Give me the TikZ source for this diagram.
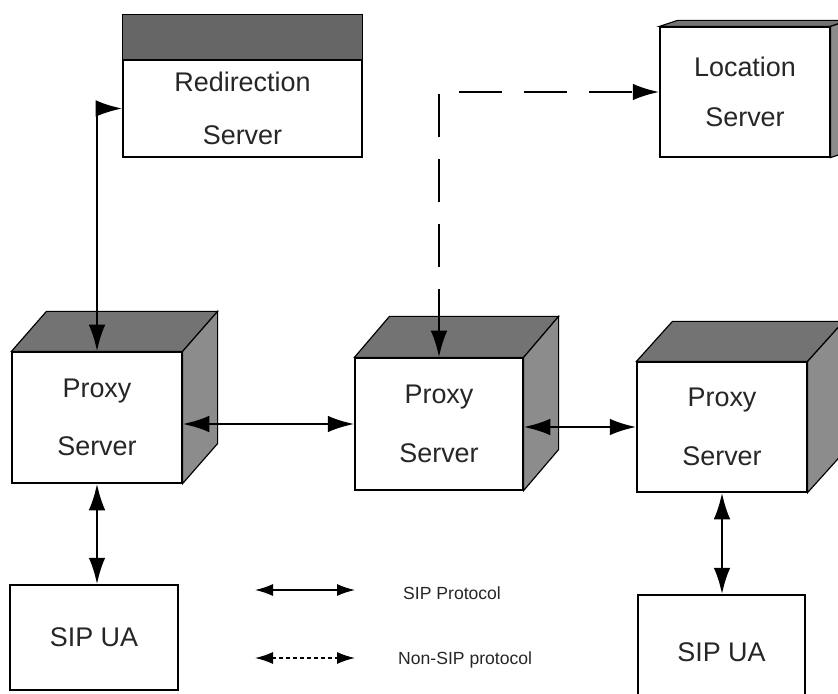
\documentclass[tikz,border=0pt]{standalone}
\usepackage{fontspec}
\setmainfont{Liberation Sans}
\usetikzlibrary{arrows.meta,calc}
\def\cubefaces(#1)(#2,#3){%
  \draw[fill=black!55, line width=1pt] (#1.north west) -- ++(#2,#3) -- ($(#1.north east)+(#2,#3)$) -- (#1.north east) -- cycle;
  \draw[fill=black!45, line width=1pt] (#1.north east) -- ++(#2,#3) -- ($(#1.south east)+(#2,#3)$) -- (#1.south east) -- cycle;}
\tikzset{
  box/.style={draw, line width=1pt, fill=white, inner sep=0pt, align=center, text=black!85},
  big/.style={font=\fontsize{23}{#1}\selectfont},
  link/.style={line width=0.85mm, {Latex[length=8mm,width=5mm]}-{Latex[length=8mm,width=5mm]}},
  nonlink/.style={link, dash pattern=on 13mm off 6.5mm},
  keylink/.style={line width=0.45mm, {Latex[length=5.4mm,width=3.6mm]}-{Latex[length=5.4mm,width=3.6mm]}},
  legend/.style={font=\fontsize{15}{18}\selectfont, anchor=west, inner sep=0pt, text=black!85}
}

\begin{document}
\begin{tikzpicture}[x=0.3mm, y=0.3mm]
		%%%%% START %%%%%
		\clip (0, 0) rectangle (838, 693);
		
		% servers on top
		\node[box, big=45pt, minimum width=71.7mm, minimum height=29.1mm] (redir) at (242.5, 584.5) {Redirection\\Server};
		\draw[fill=black!60, line width=1pt] (redir.north west) rectangle ($(redir.north east)+(0, 45)$);
		
		\node[box, big=43pt, minimum width=51mm, minimum height=39mm] (loc) at (745, 601) {Location\\Server};
		\cubefaces(loc)(18, 6)
		
		% proxies
		\node[box, big=50pt, minimum width=51mm, minimum height=39.3mm] (p1) at (97, 275.5) {Proxy\\Server};
		\cubefaces(p1)(35, 40)
		\node[box, big=50pt, minimum width=50.4mm, minimum height=39.6mm] (p2) at (439, 269) {Proxy\\Server};
		\cubefaces(p2)(35, 41)
		\node[box, big=50pt, minimum width=51mm, minimum height=39mm] (p3) at (722, 266) {Proxy\\Server};
		\cubefaces(p3)(36, 40)
		
		% user agents
		\node[box, big=28pt, minimum width=50.4mm, minimum height=31.5mm] (ua1) at (94, 55.5) {SIP UA};
		\node[box, big=28pt, minimum width=50.1mm, minimum height=34.2mm] (ua2) at (721.5, 41) {SIP UA};
		
		% connections
		\draw[link] (p1.north) |- (redir.west);
		\draw[nonlink] (p2.north) |- (loc.west);
		\draw[link] (p1.east |- p2.west) -- (p2.west);
		\draw[link] (p2.east |- p3.west) -- (p3.west);
		\draw[link] (p1.south) -- (p1.south |- ua1.north);
		\draw[link] (p3.south) -- (p3.south |- ua2.north);
		
		% legend
		\coordinate (sipL) at (255, 103);
		\coordinate (sipR) at (355, 103);
		\coordinate (nonL) at (255, 35);
		\coordinate (nonR) at (355, 35);
		\draw[keylink] (sipL) -- (sipR);
		\draw[keylink, dash pattern=on 1.2mm off 0.9mm] (nonL) -- (nonR);
		\node[legend] (siptxt) at (403, 100) {SIP Protocol};
		\node[legend] (nontxt) at (398, 33) {Non-SIP protocol};
		%%%%% END %%%%%
\end{tikzpicture}
\end{document}
